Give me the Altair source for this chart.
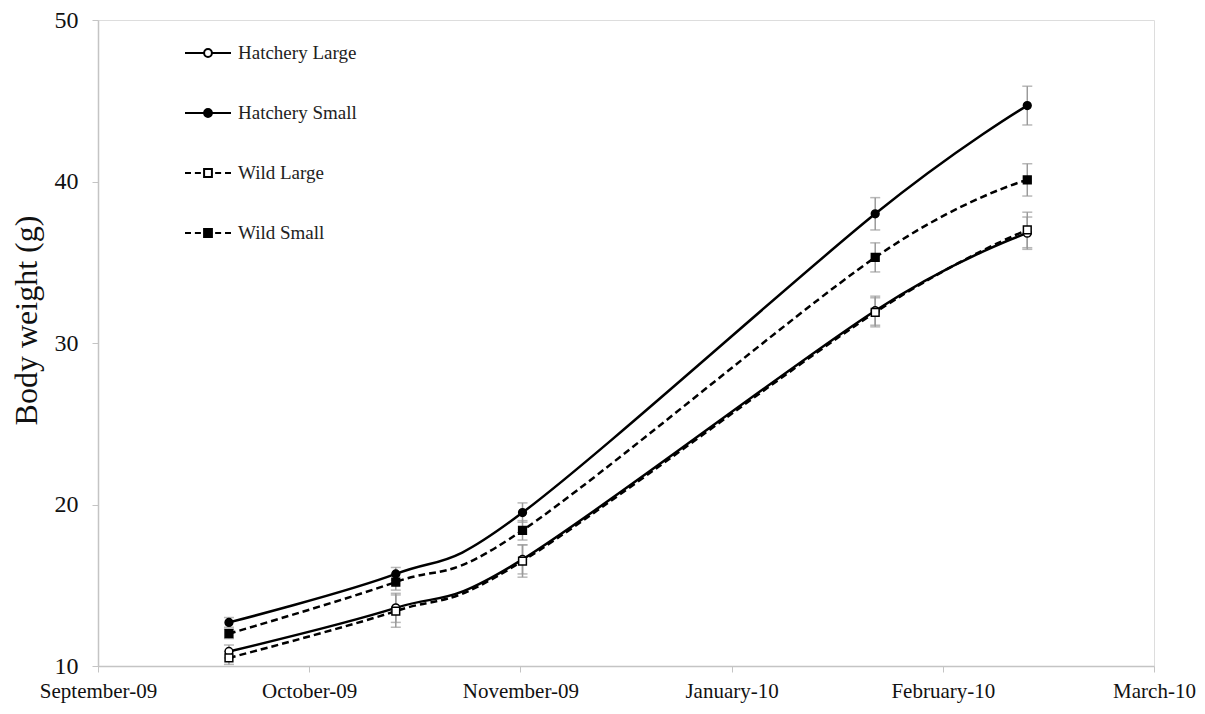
import altair as alt
import pandas as pd

# ---- data ----
month_labels = ["September-09", "October-09", "November-09", "January-10", "February-10", "March-10"]
tick_positions = [0, 1, 2, 3, 4, 5]
sample_x = [0.62, 1.41, 2.01, 3.68, 4.40]

series_names = ["Hatchery Large", "Hatchery Small", "Wild Large", "Wild Small"]
hatchery_large = [10.9, 13.6, 16.6, 32.0, 36.8]
hatchery_large_err = [0.4, 0.9, 0.9, 0.9, 1.0]
hatchery_small = [12.7, 15.7, 19.5, 38.0, 44.7]
hatchery_small_err = [0.3, 0.4, 0.6, 1.0, 1.2]
wild_large = [10.5, 13.4, 16.5, 31.9, 37.0]
wild_large_err = [0.4, 1.0, 1.0, 0.9, 1.1]
wild_small = [12.0, 15.2, 18.4, 35.3, 40.1]
wild_small_err = [0.3, 0.5, 0.6, 0.9, 1.0]

values = [hatchery_large, hatchery_small, wild_large, wild_small]
errors = [hatchery_large_err, hatchery_small_err, wild_large_err, wild_small_err]
marker_shapes = ["circle", "circle", "square", "square"]
marker_fills = ["white", "black", "white", "black"]

rows = []
for name, vals, errs in zip(series_names, values, errors):
    for i, (x, v, e) in enumerate(zip(sample_x, vals, errs)):
        rows.append({"series": name, "x": x, "y": v,
                     "lo": v - e, "hi": v + e, "idx": i,
                     "origin": name.split()[0]})
df = pd.DataFrame(rows)

FONT = "Liberation Serif"
label_expr = "[" + ",".join("'%s'" % m for m in month_labels) + "][datum.value]"

xscale = alt.Scale(domain=[0, 5], nice=False, zero=False)
yscale = alt.Scale(domain=[10, 50], nice=False, zero=False)

xenc = alt.X("x:Q", scale=xscale,
             axis=alt.Axis(values=tick_positions, labelExpr=label_expr, title=None,
                           grid=False, labelFontSize=21, labelFont=FONT, labelColor="#111",
                           domainColor="#c4c4c4", tickColor="#c4c4c4", tickSize=6,
                           labelPadding=8, domainWidth=1.5, labelFlush=False))
yaxis = alt.Axis(values=[10, 20, 30, 40, 50], title="Body weight (g)", grid=False,
                 labelFontSize=24, labelFont=FONT, labelColor="#111",
                 titleFont=FONT, titleFontSize=32, titleFontWeight="normal",
                 titleColor="#111", titlePadding=11, titleY=300,
                 domainColor="#c4c4c4", tickColor="#c4c4c4", tickSize=6,
                 labelPadding=14, domainWidth=1.5)

base = alt.Chart(df)

err_rule = base.mark_rule(color="#9a9a9a", strokeWidth=1.5).encode(
    x=xenc, y=alt.Y("lo:Q", scale=yscale, axis=yaxis), y2="hi:Q")
cap_lo = base.mark_tick(color="#9a9a9a", orient="horizontal", size=10, thickness=1.5).encode(
    x="x:Q", y=alt.Y("lo:Q", scale=yscale))
cap_hi = base.mark_tick(color="#9a9a9a", orient="horizontal", size=10, thickness=1.5).encode(
    x="x:Q", y=alt.Y("hi:Q", scale=yscale))

line_solid = base.transform_filter(alt.datum.origin == "Hatchery").mark_line(
    color="black", strokeWidth=2.5, interpolate="cardinal").encode(
    x="x:Q", y=alt.Y("y:Q", scale=yscale), detail="series:N")
line_dash = base.transform_filter(alt.datum.origin == "Wild").mark_line(
    color="black", strokeWidth=2.5, interpolate="cardinal", strokeDash=[7, 4]).encode(
    x="x:Q", y=alt.Y("y:Q", scale=yscale), detail="series:N")

point_layers = []
for name, shp, fll in zip(series_names, marker_shapes, marker_fills):
    point_layers.append(
        base.transform_filter(alt.datum.series == name).mark_point(
            shape=shp, fill=fll, filled=True, stroke="black", strokeWidth=1.5,
            size=60, opacity=1).encode(x="x:Q", y=alt.Y("y:Q", scale=yscale)))

# legend symbols: line segment + marker
solid_circle = ("M-1,0L-0.17,0M0.17,0L1,0"
                "M-0.17,0A0.17,0.17 0 1 0 0.17,0A0.17,0.17 0 1 0 -0.17,0Z")
dash_sq = ("M-1,0L-0.74,0M-0.57,0L-0.31,0M0.31,0L0.57,0M0.74,0L1,0"
           "M-0.17,-0.17L0.17,-0.17L0.17,0.17L-0.17,0.17Z")
legend_paths = [solid_circle, solid_circle, dash_sq, dash_sq]


def make_legend():
    return alt.Legend(title=None, orient="none", legendX=86, legendY=9,
                      symbolSize=2116, symbolStrokeWidth=2,
                      symbolStrokeColor="black", symbolOpacity=1,
                      labelFont=FONT, labelFontSize=19, labelColor="#222",
                      labelOffset=6, rowPadding=26, padding=0)


legend_layer = base.transform_filter(alt.datum.idx == 0).mark_point(
    filled=True, strokeWidth=2, opacity=0).encode(
    x="x:Q", y=alt.Y("y:Q", scale=yscale),
    shape=alt.Shape("series:N", scale=alt.Scale(domain=series_names, range=legend_paths),
                    legend=make_legend()),
    fill=alt.Fill("series:N", scale=alt.Scale(domain=series_names, range=marker_fills),
                  legend=make_legend()),
    stroke=alt.Stroke("series:N", scale=alt.Scale(domain=series_names,
                                                  range=["black", "black", "black", "black"]),
                      legend=make_legend()))

chart = alt.layer(err_rule, cap_lo, cap_hi, line_solid, line_dash, *point_layers,
                  legend_layer).properties(
    width=1056, height=646,
    autosize=alt.AutoSizeParams(type="none"),
    padding={"left": 90, "top": 12, "right": 43, "bottom": 40},
).configure_view(stroke=None).configure(background="white")

chart.save("out.html", embed_options={"renderer": "svg", "actions": False})
